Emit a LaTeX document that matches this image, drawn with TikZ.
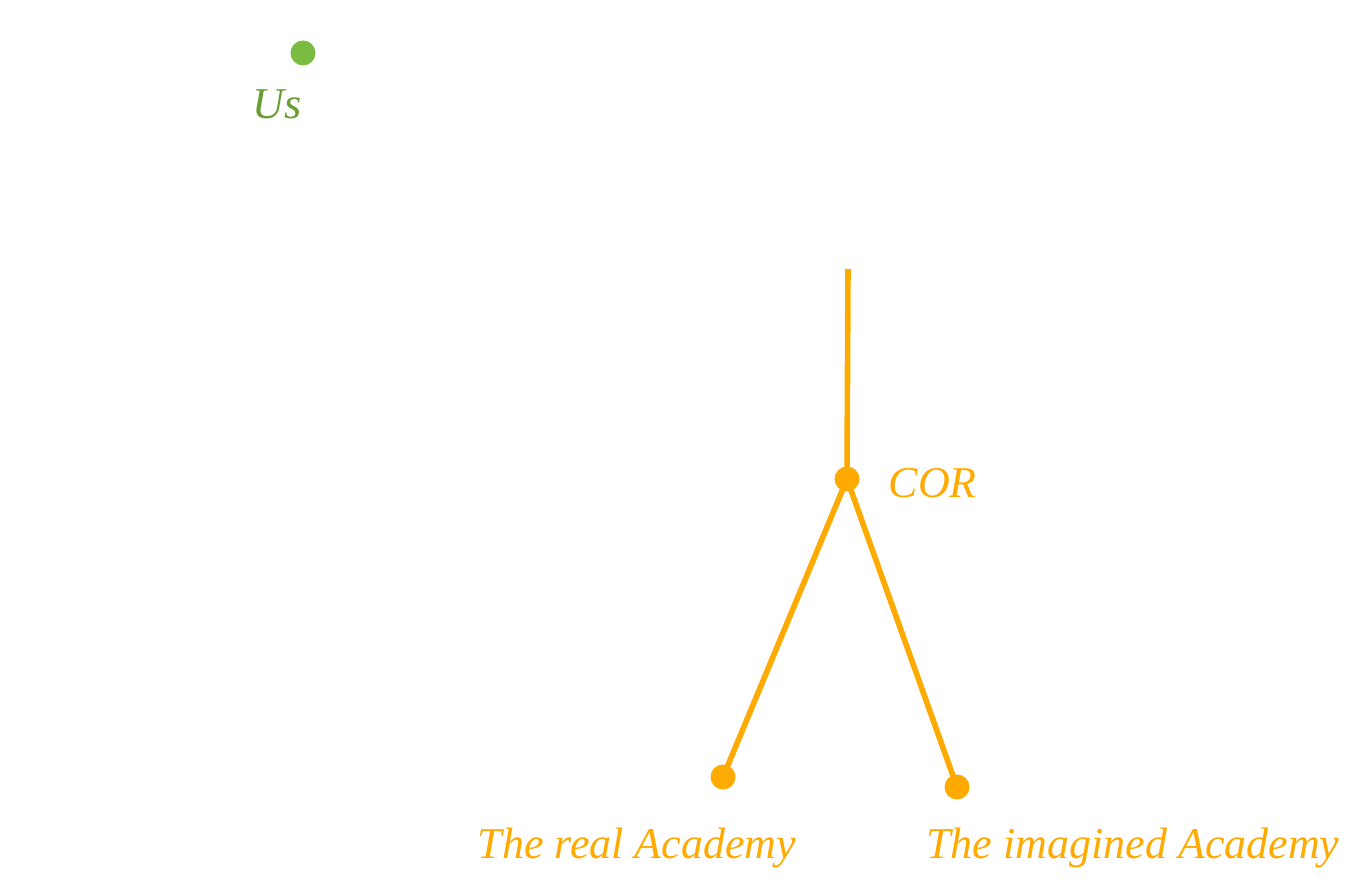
\documentclass[tikz,border=0pt]{standalone}
\usepackage{fontspec}
\setmainfont{Liberation Serif}
\definecolor{cororange}{RGB}{255,170,0}
\definecolor{usgreen}{RGB}{122,187,66}
\definecolor{usgreentext}{RGB}{104,158,52}
\begin{document}
\begin{tikzpicture}[x=0.5pt,y=-0.5pt,line width=2.8pt]
	\tikzstyle{spot}=[circle,fill,inner sep=0pt,minimum size=12.5pt];
	\tikzstyle{lbl}=[font=\fontsize{22}{26}\selectfont\itshape,inner sep=0pt];
	\useasboundingbox (0,0) rectangle (1362,882);

	\node[spot,usgreen] (us) at (303,53) {};
	\node[lbl,usgreentext] (uslbl) at (277,104) {Us};

	\coordinate (top) at (848,269);
	\node[spot,cororange] (cor) at (847,479) {};
	\node[spot,cororange] (real) at (723,777) {};
	\node[spot,cororange] (imag) at (957,787) {};
	\draw[cororange] (top) -- (cor.center);
	\draw[cororange] (cor.center) -- (real.center);
	\draw[cororange] (cor.center) -- (imag.center);
	\node[lbl,cororange,anchor=west] (corlbl) at (886,483) {COR};
	\node[lbl,cororange] (reallbl) at (637,848) {The real Academy};
	\node[lbl,cororange] (imaglbl) at (1133,848) {The imagined Academy};
\end{tikzpicture}
\end{document}
